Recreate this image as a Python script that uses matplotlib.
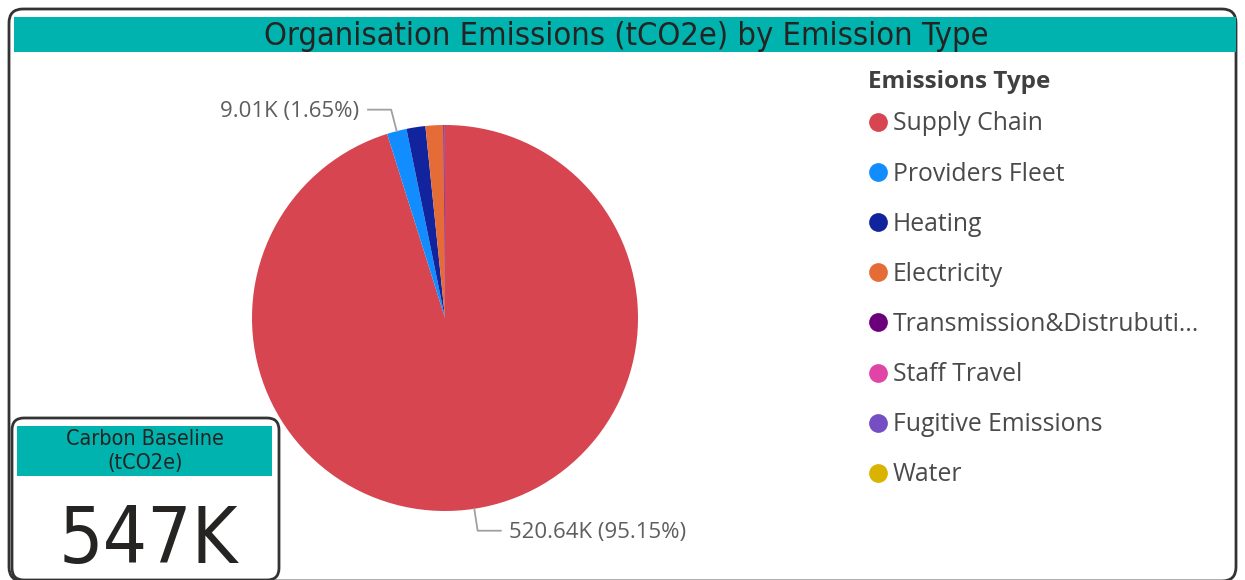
import matplotlib
matplotlib.use("Agg")
import matplotlib.pyplot as plt
from matplotlib.patches import FancyBboxPatch, Rectangle
import numpy as np

# ---------------- data ----------------
categories = ["Supply Chain", "Providers Fleet", "Heating", "Electricity",
              "Transmission&Distrubution", "Staff Travel", "Fugitive Emissions", "Water"]
values_k = [520.64, 9.01, 8.65, 8.10, 0.60, 0.10, 0.05, 0.02]   # thousand tCO2e
colors = ["#D64550", "#118DFF", "#12239E", "#E66C37",
          "#6B007B", "#E044A7", "#744EC2", "#D9B300"]
labelled = ["Supply Chain", "Providers Fleet"]
title = "Organisation Emissions (tCO2e) by Emission Type"
legend_title = "Emissions Type"
card_title = "Carbon Baseline\n(tCO2e)"
card_value = "547K"

W, H = 1245, 580
TEAL = "#00B3AE"
DARK = "#252423"
GRAY = "#605E5C"
COND = dict(family="DejaVu Sans", stretch="condensed")
UI = ["Open Sans", "DejaVu Sans"]

fig = plt.figure(figsize=(W / 100, H / 100), dpi=100)
fig.patch.set_facecolor("white")

# background overlay (pixel coordinates)
bg = fig.add_axes([0, 0, 1, 1], zorder=0)
bg.set_xlim(0, W); bg.set_ylim(H, 0); bg.axis("off")
bg.add_patch(FancyBboxPatch((9, 9), W - 18, H - 8, boxstyle="round,pad=0,rounding_size=14",
                            fc="white", ec="#333333", lw=2))
bg.add_patch(Rectangle((14, 17), 1222, 35, fc=TEAL, ec="none"))
bg.text(626, 37, title, ha="center", va="center", fontsize=23.4, color=DARK, **COND)

# ---------------- pie ----------------
cx, cy, r = 445, 318, 193
pie_ax = fig.add_axes([(cx - r) / W, 1 - (cy + r) / H, 2 * r / W, 2 * r / H], zorder=1)
wedges, _ = pie_ax.pie(values_k, colors=colors, startangle=90, counterclock=False,
                       radius=1, wedgeprops=dict(linewidth=0))
pie_ax.set_xlim(-1, 1); pie_ax.set_ylim(-1, 1); pie_ax.set_aspect("equal")
pie_ax.axis("off")

total = sum(values_k)
for name, val, w in zip(categories, values_k, wedges):
    if name not in labelled:
        continue
    ang = np.deg2rad((w.theta1 + w.theta2) / 2)
    x0, y0 = np.cos(ang), np.sin(ang)
    x1, y1 = 1.115 * x0, 1.115 * y0
    side = 1 if x0 >= 0 else -1
    x2 = x1 + side * 0.12
    pie_ax.plot([x0, x1, x2], [y0, y1, y1], color="#A0A0A0", lw=1.3, clip_on=False)
    pie_ax.text(x2 + side * 0.045, y1 - 0.008, f"{val:.2f}K ({val / total * 100:.2f}%)",
                ha="left" if side > 0 else "right", va="center", fontsize=16,
                color=GRAY, family=UI, clip_on=False)

# ---------------- overlay (legend + card) ----------------
ov = fig.add_axes([0, 0, 1, 1], zorder=2)
ov.set_xlim(0, W); ov.set_ylim(H, 0); ov.axis("off")
ov.patch.set_alpha(0)

ov.text(868, 82, legend_title, ha="left", va="center", fontsize=17.5, fontweight="bold",
        color="#404040", family=UI)
for i, (name, col) in enumerate(zip(categories, colors)):
    y = 122 + 50.1 * i
    disp = name if len(name) <= 24 else name[:23] + "..."
    ov.plot(878, y, "o", ms=13.5, color=col, mec="none")
    ov.text(893, y + 2, disp, ha="left", va="center", fontsize=17.8, color="#4A4A4A", family=UI)

ov.add_patch(FancyBboxPatch((12, 418), 267, 162, boxstyle="round,pad=0,rounding_size=12",
                            fc="white", ec="#333333", lw=2))
ov.add_patch(Rectangle((17, 426), 255, 50, fc=TEAL, ec="none"))
ov.text(145, 451, card_title, ha="center", va="center", fontsize=15.5, color=DARK,
        linespacing=1.3, **COND)
ov.text(148, 541, card_value, ha="center", va="center", fontsize=56, color=DARK, **COND)

fig.savefig("out.png", dpi=100)
